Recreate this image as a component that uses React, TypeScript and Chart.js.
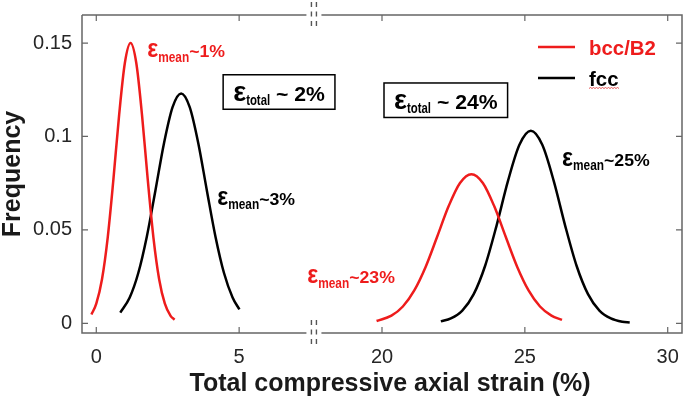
import React, { useEffect, useRef } from "react";
import { Chart, registerables } from "chart.js";

Chart.register(...registerables);

const FONT = '"Liberation Sans", Arial, Helvetica, sans-serif';
const FRAME = "#666666";
const TICK_TEXT = "#262626";
const RED = "#ee1c1c";
const BLACK = "#000000";

// Broken x axis: the span (breakLow, breakLow + breakOffset) is cut out
const breakLow = 7.6;
const breakOffset = 10;
const xMin = -0.5;
const xMax = 30.5;
const xTickValues = [0, 5, 20, 25, 30];
const yMin = -0.0052;
const yMax = 0.165;
const yTickValues = [0, 0.05, 0.1, 0.15];
const xTitle = "Total compressive axial strain (%)";
const yTitle = "Frequency";

const seriesLabels = ["bcc/B2", "fcc"];
const seriesColors = [RED, BLACK];

// bcc/B2, eps_total ~ 2%
const redLeftX = [-0.17, 0, 0.2, 0.4, 0.6, 0.8, 1.0, 1.2, 1.4, 1.6, 1.8, 2.0, 2.2, 2.4, 2.6, 2.74];
const redLeftY = [0.0047, 0.0105, 0.0236, 0.0459, 0.0771, 0.1116, 0.1393, 0.15, 0.1393, 0.1116, 0.0771, 0.0459, 0.0236, 0.0105, 0.004, 0.0019];
// fcc, eps_total ~ 2%
const blackLeftX = [0.84, 1.17, 1.47, 1.77, 2.07, 2.37, 2.67, 2.97, 3.27, 3.57, 3.87, 4.17, 4.47, 4.77, 5.01];
const blackLeftY = [0.0057, 0.0138, 0.0269, 0.0465, 0.0711, 0.0964, 0.1157, 0.123, 0.1157, 0.0964, 0.0711, 0.0465, 0.0269, 0.0138, 0.0074];
// bcc/B2, eps_total ~ 24%
const redRightX = [19.81, 20.33, 20.73, 21.13, 21.53, 21.93, 22.33, 22.73, 23.13, 23.53, 23.93, 24.33, 24.73, 25.13, 25.53, 25.93, 26.3];
const redRightY = [0.0012, 0.0041, 0.009, 0.0176, 0.0303, 0.0463, 0.0626, 0.0751, 0.0798, 0.0751, 0.0626, 0.0463, 0.0303, 0.0176, 0.009, 0.0041, 0.0018];
// fcc, eps_total ~ 24%
const blackRightX = [22.06, 22.41, 22.81, 23.21, 23.61, 24.01, 24.41, 24.81, 25.21, 25.61, 26.01, 26.41, 26.81, 27.21, 27.61, 28.01, 28.41, 28.67];
const blackRightY = [0.001, 0.0026, 0.0068, 0.0156, 0.0308, 0.0523, 0.0762, 0.0955, 0.103, 0.0955, 0.0762, 0.0523, 0.0308, 0.0156, 0.0068, 0.0026, 0.0008, 0.0004];

// Text annotations (anchor in axis units: strain %, frequency)
const meanLabels = [
  { rest: "~1%", color: RED, x: 1.78, y: 0.1423 },
  { rest: "~3%", color: BLACK, x: 4.23, y: 0.0633 },
  { rest: "~23%", color: RED, x: 7.38, y: 0.0214 },
  { rest: "~25%", color: BLACK, x: 26.3, y: 0.0842 },
];
const totalBoxes = [
  { rest: " ~ 2%", x: 4.79, y: 0.1191 },
  { rest: " ~ 24%", x: 20.42, y: 0.1147 },
];

const toU = (x: number) => (x > breakLow ? x - breakOffset : x);
const fromU = (u: number) => (u > breakLow + 1e-9 ? u + breakOffset : u);

function pts(xs: number[], ys: number[]) {
  return xs.map((x, i) => ({ x: toU(x), y: ys[i] }));
}

type Part = { text: string; size: number; width?: number; sx?: number; dy?: number };

function drawRich(ctx: CanvasRenderingContext2D, parts: Part[], x: number, baseline: number, color: string) {
  let cx = x;
  for (const p of parts) {
    ctx.save();
    ctx.font = `bold ${p.size}px ${FONT}`;
    const w = ctx.measureText(p.text).width;
    const sx = p.width ? p.width / w : p.sx ?? 1;
    ctx.translate(cx, baseline + (p.dy ?? 0));
    ctx.scale(sx, 1);
    ctx.fillStyle = color;
    ctx.textBaseline = "alphabetic";
    ctx.textAlign = "left";
    ctx.fillText(p.text, 0, 0);
    ctx.restore();
    cx += w * sx;
  }
  return cx;
}

const decor = {
  id: "decor",
  afterDraw(chart: any) {
    const { ctx, chartArea: a, scales } = chart;
    const xs = scales.x;
    const ys = scales.y;
    ctx.save();
    const bx = xs.getPixelForValue(breakLow);

    // frame with gaps at the break
    ctx.strokeStyle = FRAME;
    ctx.lineWidth = 1.5;
    ctx.beginPath();
    ctx.moveTo(a.left, a.top);
    ctx.lineTo(bx - 7, a.top);
    ctx.moveTo(bx + 8, a.top);
    ctx.lineTo(a.right, a.top);
    ctx.lineTo(a.right, a.bottom);
    ctx.lineTo(bx + 8, a.bottom);
    ctx.moveTo(bx - 7, a.bottom);
    ctx.lineTo(a.left, a.bottom);
    ctx.lineTo(a.left, a.top);
    ctx.stroke();

    // inward tick marks on all four sides
    ctx.lineWidth = 1.2;
    ctx.beginPath();
    for (const t of xs.ticks) {
      const px = xs.getPixelForValue(t.value);
      ctx.moveTo(px, a.bottom);
      ctx.lineTo(px, a.bottom - 6);
      ctx.moveTo(px, a.top);
      ctx.lineTo(px, a.top + 6);
    }
    for (const t of ys.ticks) {
      const py = ys.getPixelForValue(t.value);
      ctx.moveTo(a.left, py);
      ctx.lineTo(a.left + 6, py);
      ctx.moveTo(a.right, py);
      ctx.lineTo(a.right - 6, py);
    }
    ctx.stroke();

    // break marks
    ctx.setLineDash([5, 4.5]);
    ctx.lineWidth = 1.4;
    ctx.strokeStyle = "#555555";
    ctx.beginPath();
    for (const yy of [a.top, a.bottom]) {
      for (const dx of [-2, 3]) {
        ctx.moveTo(bx + dx, yy - 13);
        ctx.lineTo(bx + dx, yy + 11);
      }
    }
    ctx.stroke();
    ctx.setLineDash([]);

    // x axis title (slightly right of centre, as in the source figure)
    ctx.font = `bold 25px ${FONT}`;
    ctx.fillStyle = "#1a1a1a";
    ctx.textAlign = "center";
    ctx.textBaseline = "alphabetic";
    ctx.fillText(xTitle, (a.left + a.right) / 2 + 8, a.bottom + 58);

    // mean annotations
    for (const m of meanLabels) {
      const px = xs.getPixelForValue(toU(m.x));
      const py = ys.getPixelForValue(m.y);
      drawRich(
        ctx,
        [
          { text: "ε", size: 26, width: 11 },
          { text: "mean", size: 14, width: 31, dy: 4.4 },
          { text: m.rest, size: 17, sx: 1.04 },
        ],
        px,
        py,
        m.color
      );
    }

    // boxed total-strain labels
    for (const b of totalBoxes) {
      const px = xs.getPixelForValue(toU(b.x));
      const py = ys.getPixelForValue(b.y);
      const end = drawRich(
        ctx,
        [
          { text: "ε", size: 27, width: 13 },
          { text: "total", size: 14, width: 24, dy: 4 },
          { text: b.rest, size: 20, sx: 1.06 },
        ],
        px,
        py,
        BLACK
      );
      ctx.strokeStyle = BLACK;
      ctx.lineWidth = 1.5;
      ctx.strokeRect(px - 10, py - 26, end - px + 20, 34.5);
    }

    // legend (inside, upper right)
    const lx = a.right - 144;
    const rows = [a.top + 32, a.top + 63];
    chart.data.datasets.forEach((ds: any, i: number) => {
      const yy = rows[i];
      ctx.strokeStyle = ds.borderColor;
      ctx.lineWidth = 2.5;
      ctx.beginPath();
      ctx.moveTo(lx, yy);
      ctx.lineTo(lx + 37, yy);
      ctx.stroke();
      const end = drawRich(ctx, [{ text: ds.label, size: 20, sx: 1.02 }], lx + 51, yy + 8, ds.borderColor);
      if (i === 1) {
        // spell-check squiggle under "fcc"
        ctx.strokeStyle = "#e03030";
        ctx.lineWidth = 0.8;
        ctx.beginPath();
        let zx = lx + 51;
        ctx.moveTo(zx, yy + 10.5);
        let up = true;
        while (zx < end) {
          zx += 1.5;
          ctx.lineTo(zx, yy + (up ? 9.5 : 10.5));
          up = !up;
        }
        ctx.stroke();
      }
    });

    ctx.restore();
  },
};

export default function App() {
  const ref = useRef<HTMLCanvasElement | null>(null);

  useEffect(() => {
    if (!ref.current) return;
    const gapLeft = { x: breakLow, y: null as any };
    const chart = new Chart(ref.current, {
      type: "line",
      data: {
        datasets: [
          {
            label: seriesLabels[0],
            data: [...pts(redLeftX, redLeftY), gapLeft, ...pts(redRightX, redRightY)],
            borderColor: seriesColors[0],
            borderWidth: 2.5,
            pointRadius: 0,
            cubicInterpolationMode: "monotone",
            spanGaps: false,
            fill: false,
          },
          {
            label: seriesLabels[1],
            data: [...pts(blackLeftX, blackLeftY), gapLeft, ...pts(blackRightX, blackRightY)],
            borderColor: seriesColors[1],
            borderWidth: 2.5,
            pointRadius: 0,
            cubicInterpolationMode: "monotone",
            spanGaps: false,
            fill: false,
          },
        ],
      },
      options: {
        animation: false,
        responsive: false,
        devicePixelRatio: 1,
        parsing: false as any,
        normalized: true,
        layout: { padding: { left: 0, top: 15, right: 3, bottom: 0 } },
        plugins: { legend: { display: false }, tooltip: { enabled: false } },
        scales: {
          x: {
            type: "linear",
            min: toU(xMin),
            max: toU(xMax),
            grid: { display: false },
            border: { display: false },
            afterBuildTicks: (axis: any) => {
              axis.ticks = xTickValues.map((v) => ({ value: toU(v) }));
            },
            afterFit: (scale: any) => {
              scale.height = 68;
            },
            ticks: {
              autoSkip: false,
              maxRotation: 0,
              padding: 4,
              color: TICK_TEXT,
              font: { family: FONT, size: 20 },
              callback: (v: any) => String(Math.round(fromU(Number(v)))),
            },
            title: { display: false },
          },
          y: {
            type: "linear",
            min: yMin,
            max: yMax,
            grid: { display: false },
            border: { display: false },
            afterBuildTicks: (axis: any) => {
              axis.ticks = yTickValues.map((v) => ({ value: v }));
            },
            afterFit: (scale: any) => {
              scale.width = 82;
            },
            ticks: {
              padding: 2,
              color: TICK_TEXT,
              font: { family: FONT, size: 20 },
              callback: (v: any) => String(v),
            },
            title: {
              display: true,
              text: yTitle,
              color: "#1a1a1a",
              font: { family: FONT, size: 25, weight: "bold", lineHeight: 1 },
              padding: { top: 1, bottom: 0 },
            },
          },
        },
      },
      plugins: [decor],
    } as any);
    return () => chart.destroy();
  }, []);

  return (
    <div style={{ position: "absolute", left: 0, top: 0, width: 685, height: 401, background: "#fff" }}>
      <canvas ref={ref} width={685} height={401} style={{ display: "block" }} />
    </div>
  );
}
